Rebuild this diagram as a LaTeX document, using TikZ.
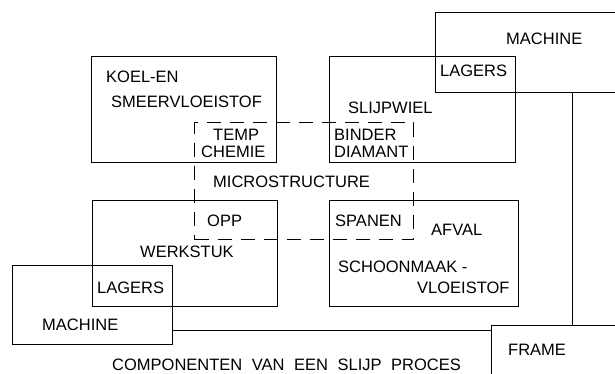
\documentclass[tikz,border=0pt]{standalone}
\usepackage{fontspec}
\setmainfont{Liberation Sans}
\begin{document}
\begin{tikzpicture}[x=1pt,y=-1pt,
  box/.style={draw, line width=1.1pt, anchor=north west, inner sep=0pt},
  dbox/.style={draw, line width=1.1pt, dash pattern=on 14pt off 9pt, anchor=north west, inner sep=0pt},
  lbl/.style={anchor=west, inner sep=0pt, font=\fontsize{16.5}{18}\selectfont},
  conn/.style={line width=1pt}]
\useasboundingbox (0,0) rectangle (615,374);
\clip (0,0) rectangle (615,374);
% boxes
\node[box, minimum width=185pt, minimum height=106pt] (koel) at (91,56) {};
\node[box, minimum width=186pt, minimum height=106pt] (wiel) at (329,56) {};
\node[box, minimum width=190pt, minimum height=80pt] (machT) at (435,12) {};
\node[box, minimum width=185pt, minimum height=106pt] (werk) at (92,200) {};
\node[box, minimum width=189pt, minimum height=106pt] (afval) at (329,200) {};
\node[box, minimum width=160pt, minimum height=79pt] (machB) at (12,265) {};
\node[box, minimum width=140pt, minimum height=60pt] (frame) at (491,325) {};
\node[dbox, minimum width=219pt, minimum height=117pt] (micro) at (194,122) {};
% connectors
\coordinate (c1) at (572,92);
\coordinate (c2) at (172,330);
\draw[conn] (c1) -- (c1 |- frame.north);
\draw[conn] (c2) -- (c2 -| frame.west);
% labels
\node[lbl] (t1) at (106,77) {KOEL-EN};
\node[lbl] (t2) at (111,102) {SMEERVLOEISTOF};
\node[lbl] (t3) at (213,135) {TEMP};
\node[lbl] (t4) at (201,152) {CHEMIE};
\node[lbl] (t5) at (334,135) {BINDER};
\node[lbl] (t6) at (334,152) {DIAMANT};
\node[lbl] (t7) at (348,108) {SLIJPWIEL};
\node[lbl] (t8) at (506,39) {MACHINE};
\node[lbl] (t9) at (440,71) {LAGERS};
\node[lbl] (t10) at (213,182) {MICROSTRUCTURE};
\node[lbl] (t11) at (207,221) {OPP};
\node[lbl] (t12) at (335,221) {SPANEN};
\node[lbl] (t13) at (431,230) {AFVAL};
\node[lbl] (t14) at (140,252) {WERKSTUK};
\node[lbl] (t15) at (338,267) {SCHOONMAAK -};
\node[lbl] (t16) at (417,288) {VLOEISTOF};
\node[lbl] (t17) at (97,288) {LAGERS};
\node[lbl] (t18) at (42,325) {MACHINE};
\node[lbl] (t19) at (508,350) {FRAME};
\node[lbl] (t20) at (112,365) {COMPONENTEN\hspace{0.3em} VAN\hspace{0.3em} EEN\hspace{0.3em} SLIJP\hspace{0.3em} PROCES};
\end{tikzpicture}
\end{document}
